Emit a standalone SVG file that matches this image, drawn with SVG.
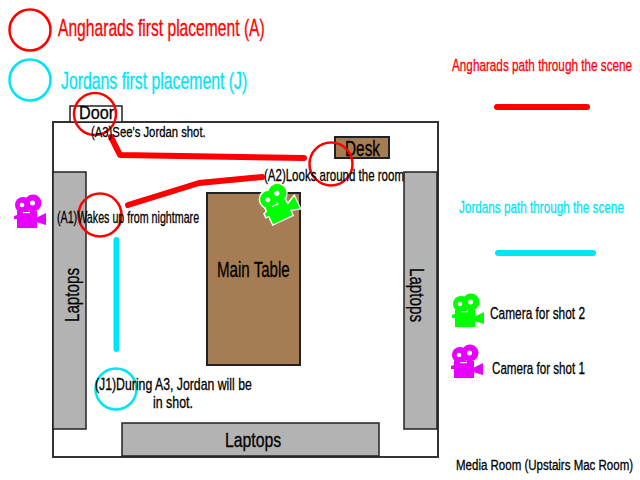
<svg xmlns="http://www.w3.org/2000/svg" width="640" height="480" viewBox="0 0 640 480">
<style>
text{font-family:"Liberation Sans",Arial,sans-serif;fill:#000;text-anchor:start;stroke:#000;stroke-width:.3px}
.room{fill:#fff;stroke:#333;stroke-width:2}
.lap{fill:#b3b3b3;stroke:#222;stroke-width:1.5}
.wood{fill:#a67c52;stroke:#222;stroke-width:2}
.rc{fill:none;stroke:#f00;stroke-width:2.5}
.cc{fill:none;stroke:#00e5f5;stroke-width:2.5}
.rp{fill:none;stroke:#f00;stroke-width:6;stroke-linecap:round;stroke-linejoin:round}
.cp{fill:none;stroke:#00e5f5;stroke-width:6;stroke-linecap:round}
.s{font-size:16px}
.red{fill:#f00;stroke:#f00}
.cy{fill:#00e5f5;stroke:#00e5f5}
</style>
<defs>
<g id="cam">
<circle cx="9" cy="10" r="8"/><circle cx="19" cy="8" r="8.500"/>
<path d="M3 16H23V33H3V24L0 24V21L3 20Z"/>
<path d="M22 23L32 18V30L22 27Z"/>
<circle cx="8" cy="10" r="2.300" fill="#fff"/><circle cx="18.500" cy="8" r="2.500" fill="#fff"/>
<rect x="9" y="17" width="7" height="1.200" fill="#fff"/>
</g>
</defs>

<g id="room"><rect class="room" x="53" y="122" width="385" height="335"/></g>
<g id="door"><rect x="70" y="106" width="52" height="16" fill="#fff" stroke="#222" stroke-width="1.500"/><text transform="translate(79,119) scale(.78,1)" textLength="45" lengthAdjust="spacingAndGlyphs" style="font-size:19px">Door</text></g>
<g id="desk"><rect class="wood" x="335" y="137" width="54" height="21"/><text transform="translate(345,156) scale(.7,1)" textLength="50" lengthAdjust="spacingAndGlyphs" style="font-size:22px">Desk</text></g>
<g id="main-table"><rect class="wood" x="207" y="193" width="93" height="172"/><text transform="translate(217,277) scale(.68,1)" textLength="107" lengthAdjust="spacingAndGlyphs" style="font-size:22px">Main Table</text></g>
<g id="laptops-left"><rect class="lap" x="53" y="172" width="33" height="257"/><text transform="translate(79,322) rotate(-90) scale(.75,1)" textLength="72" lengthAdjust="spacingAndGlyphs" style="font-size:21px">Laptops</text></g>
<g id="laptops-right"><rect class="lap" x="404" y="172" width="33" height="257"/><text transform="translate(410,268) rotate(90) scale(.75,1)" textLength="72" lengthAdjust="spacingAndGlyphs" style="font-size:21px">Laptops</text></g>
<g id="laptops-bottom"><rect class="lap" x="122" y="423" width="257" height="33"/><text transform="translate(225,447) scale(.75,1)" textLength="75" lengthAdjust="spacingAndGlyphs" style="font-size:21px">Laptops</text></g>

<g id="connectors">
<path class="rp" d="M111 137L120 155L304 158"/>
<path class="rp" d="M128 205L199 183L262 177"/>
<path class="cp" d="M116.500 240V349"/>
<path class="rp" d="M497 107H587"/>
<path class="cp" d="M498 253H593"/>
</g>

<g id="a-legend"><circle class="rc" cx="30" cy="30" r="20.500"/><text class="red" transform="translate(58,36) scale(.64,1)" textLength="323" lengthAdjust="spacingAndGlyphs" style="font-size:23px">Angharads first placement (A)</text></g>
<g id="j-legend"><circle class="cc" cx="30" cy="80" r="20.500"/><text class="cy" transform="translate(61,89) scale(.64,1)" textLength="291" lengthAdjust="spacingAndGlyphs" style="font-size:23px">Jordans first placement (J)</text></g>
<g id="a-path-label"><text class="red" transform="translate(452,71) scale(.69,1)" textLength="261" lengthAdjust="spacingAndGlyphs" style="font-size:17px">Angharads path through the scene</text></g>
<g id="j-path-label"><text class="cy" transform="translate(459,213) scale(.69,1)" textLength="239" lengthAdjust="spacingAndGlyphs" style="font-size:17px">Jordans path through the scene</text></g>

<g id="a3"><circle class="rc" cx="95" cy="114" r="21"/><text transform="translate(91,137) scale(.74,1)" textLength="155" lengthAdjust="spacingAndGlyphs" style="font-size:15px">(A3)See's Jordan shot.</text></g>
<g id="a2"><circle class="rc" cx="331" cy="164" r="21.500"/><text class="s" transform="translate(264,181) scale(.7,1)" textLength="200" lengthAdjust="spacingAndGlyphs">(A2)Looks around the room</text></g>
<g id="a1"><circle class="rc" cx="100" cy="215" r="21.500"/><text class="s" transform="translate(57,223) scale(.7,1)" textLength="203" lengthAdjust="spacingAndGlyphs">(A1)Wakes up from nightmare</text></g>
<g id="j1"><circle class="cc" cx="116" cy="389" r="20.500"/><text class="s" transform="translate(95,390) scale(.7,1)" textLength="224" lengthAdjust="spacingAndGlyphs">(J1)During A3, Jordan will be</text><text class="s" transform="translate(153,408) scale(.7,1)" textLength="57" lengthAdjust="spacingAndGlyphs">in shot.</text></g>

<g id="camera-1"><use href="#cam" x="14" y="195" fill="#e600ff"/></g>
<g id="camera-2"><g transform="translate(278,202) rotate(-25) scale(1.050) translate(-16,-16)"><use href="#cam" fill="#0f0" stroke="#fff" stroke-width="3" paint-order="stroke"/><use href="#cam" fill="#0f0"/></g></g>
<g id="legend-camera-2"><use href="#cam" x="452" y="294" fill="#0f0"/><text transform="translate(490,319) scale(.72,1)" textLength="132" lengthAdjust="spacingAndGlyphs" style="font-size:16.500px">Camera for shot 2</text></g>
<g id="legend-camera-1"><use href="#cam" x="451" y="345" fill="#e600ff"/><text transform="translate(492,374) scale(.72,1)" textLength="129" lengthAdjust="spacingAndGlyphs" style="font-size:16.500px">Camera for shot 1</text></g>
<g id="caption"><text class="s" transform="translate(456,470) scale(.76,1)" textLength="233" lengthAdjust="spacingAndGlyphs" style="font-size:15px">Media Room (Upstairs Mac Room)</text></g>
</svg>
